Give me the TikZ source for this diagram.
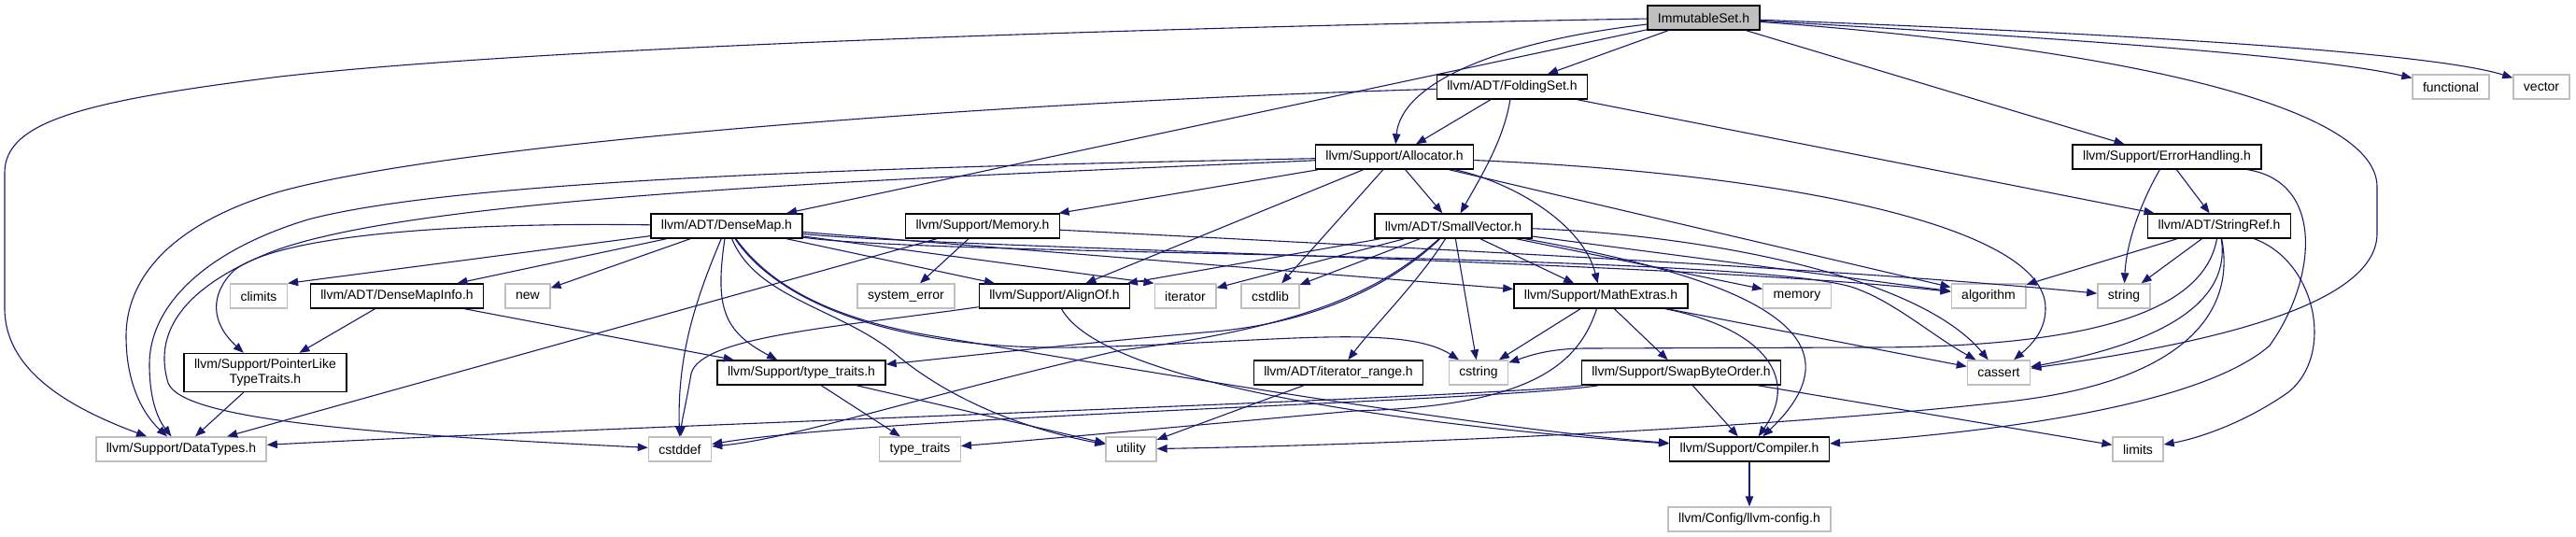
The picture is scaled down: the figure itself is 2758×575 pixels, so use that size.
\documentclass[tikz,border=0pt]{standalone}
\usepackage{fontspec}
\setmainfont{Liberation Sans}
\usetikzlibrary{arrows.meta}
\definecolor{edgeblue}{HTML}{191970}
\definecolor{stdgray}{HTML}{BFBFBF}
\begin{document}
\begin{tikzpicture}[x=1pt, y=-1pt,
    every node/.style={font=\fontsize{14}{16}\selectfont, inner xsep=11pt, inner ysep=0pt, minimum height=26pt, line width=1.4pt, fill=white},
    hdr/.style={draw=black},
    stdhdr/.style={draw=stdgray},
    roothdr/.style={draw=black, fill=stdgray},
    inc/.style={draw=edgeblue, line width=1.1pt, -{Triangle[length=11pt,width=8.5pt]}}]
    \useasboundingbox (0,0) rectangle (2758,575);

    % headers
    \node[roothdr] (iset) at (1824,19) {ImmutableSet.h};
    \node[hdr] (fset) at (1619,93) {llvm/ADT/FoldingSet.h};
    \node[stdhdr] (func) at (2624,93) {functional};
    \node[stdhdr] (vec) at (2721,93) {vector};
    \node[hdr] (alloc) at (1493,168) {llvm/Support/Allocator.h};
    \node[hdr] (errh) at (2320,168) {llvm/Support/ErrorHandling.h};
    \node[hdr] (dmap) at (778,242) {llvm/ADT/DenseMap.h};
    \node[hdr] (mem) at (1052,242) {llvm/Support/Memory.h};
    \node[hdr] (svec) at (1556,242) {llvm/ADT/SmallVector.h};
    \node[hdr] (sref) at (2376,242) {llvm/ADT/StringRef.h};
    \node[stdhdr] (climits) at (277,317) {climits};
    \node[hdr] (dminfo) at (425,317) {llvm/ADT/DenseMapInfo.h};
    \node[stdhdr] (new) at (565,317) {new};
    \node[stdhdr] (syserr) at (970,317) {system\_error};
    \node[hdr] (align) at (1129,317) {llvm/Support/AlignOf.h};
    \node[stdhdr] (iter) at (1269,317) {iterator};
    \node[stdhdr] (cstdlib) at (1360,317) {cstdlib};
    \node[hdr] (mathx) at (1714,317) {llvm/Support/MathExtras.h};
    \node[stdhdr] (memory) at (1924,317) {memory};
    \node[stdhdr] (algo) at (2129,317) {algorithm};
    \node[stdhdr] (string) at (2274,317) {string};
    \node[hdr, align=center, minimum height=41pt] (ptrlike) at (284,399) {llvm/Support/PointerLike\\TypeTraits.h};
    \node[hdr] (ttraitsh) at (858,399) {llvm/Support/type\_traits.h};
    \node[hdr] (irange) at (1433,399) {llvm/ADT/iterator\_range.h};
    \node[stdhdr] (cstring) at (1583,399) {cstring};
    \node[hdr] (swapbo) at (1800,399) {llvm/Support/SwapByteOrder.h};
    \node[stdhdr] (cassert) at (2140,399) {cassert};
    \node[stdhdr] (dtypes) at (194,481) {llvm/Support/DataTypes.h};
    \node[stdhdr] (cstddef) at (728,481) {cstddef};
    \node[stdhdr] (ttraits) at (985,481) {type\_traits};
    \node[stdhdr] (utility) at (1211,481) {utility};
    \node[hdr] (comp) at (1873,481) {llvm/Support/Compiler.h};
    \node[stdhdr] (limits) at (2289,481) {limits};
    \node[stdhdr] (lconf) at (1873,556) {llvm/Config/llvm-config.h};

    % ImmutableSet.h
    \draw[inc] (iset) .. controls (1300,28) and (600,48) .. (300,82) .. controls (90,108) and (5,130) .. (5,185) -- (5,330) .. controls (5,395) and (70,435) .. (dtypes);
    \draw[inc] (iset) -- (dmap);
    \draw[inc] (iset) -- (fset);
    \draw[inc] (iset) .. controls (1600,45) and (1500,90) .. (alloc);
    \draw[inc] (iset) -- (errh);
    \draw[inc] (iset) .. controls (2250,50) and (2545,110) .. (2545,200) -- (2545,250) .. controls (2545,330) and (2350,370) .. (cassert);
    \draw[inc] (iset) .. controls (2200,40) and (2480,60) .. (func);
    \draw[inc] (iset) .. controls (2250,35) and (2600,55) .. (vec);

    % FoldingSet.h
    \draw[inc] (fset) .. controls (1100,108) and (500,150) .. (300,205) .. controls (180,240) and (135,300) .. (135,360) .. controls (135,420) and (160,450) .. (dtypes);
    \draw[inc] (fset) -- (alloc);
    \draw[inc] (fset) .. controls (1610,150) and (1585,190) .. (svec);
    \draw[inc] (fset) -- (sref);

    % Allocator.h
    \draw[inc] (alloc) .. controls (1000,178) and (500,190) .. (330,235) .. controls (215,270) and (160,330) .. (160,390) .. controls (160,430) and (170,450) .. (dtypes);
    \draw[inc] (alloc) .. controls (1000,190) and (450,208) .. (290,270) .. controls (190,310) and (165,360) .. (180,410) .. controls (195,450) and (400,465) .. (cstddef);
    \draw[inc] (alloc) -- (mem);
    \draw[inc] (alloc) -- (align);
    \draw[inc] (alloc) -- (cstdlib);
    \draw[inc] (alloc) -- (svec);
    \draw[inc] (alloc) .. controls (1620,195) and (1695,240) .. (mathx);
    \draw[inc] (alloc) -- (algo);
    \draw[inc] (alloc) .. controls (1900,185) and (2190,240) .. (2190,330) .. controls (2190,350) and (2180,365) .. (cassert);

    % DenseMap.h
    \draw[inc] (dmap) -- (climits.north east);
    \draw[inc] (dmap) -- (dminfo);
    \draw[inc] (dmap) -- (new);
    \draw[inc] (dmap) .. controls (500,238) and (300,250) .. (250,290) .. controls (225,315) and (225,345) .. (ptrlike);
    \draw[inc] (dmap) .. controls (745,320) and (725,380) .. (cstddef);
    \draw[inc] (dmap) .. controls (765,330) and (775,355) .. (ttraitsh);
    \draw[inc] (dmap) .. controls (810,320) and (900,330) .. (960,380) .. controls (1020,430) and (1100,460) .. (utility);
    \draw[inc] (dmap) .. controls (830,320) and (950,375) .. (1150,372) .. controls (1350,368) and (1500,345) .. (cstring);
    \draw[inc] (dmap) .. controls (820,300) and (880,340) .. (1000,360) .. controls (1300,410) and (1600,460) .. (comp);
    \draw[inc] (dmap) -- (align);
    \draw[inc] (dmap) -- (iter.north west);
    \draw[inc] (dmap) -- (mathx);
    \draw[inc] (dmap) .. controls (1000,265) and (1800,280) .. (algo);
    \draw[inc] (dmap) .. controls (1000,275) and (1900,270) .. (1990,310) .. controls (2030,325) and (2070,360) .. (cassert);

    % Memory.h
    \draw[inc] (mem) -- (dtypes);
    \draw[inc] (mem) -- (syserr);
    \draw[inc] (mem) .. controls (1600,270) and (2000,290) .. (string);

    % SmallVector.h
    \draw[inc] (svec) -- (align);
    \draw[inc] (svec) -- (iter);
    \draw[inc] (svec) -- (cstdlib);
    \draw[inc] (svec) .. controls (1480,310) and (1400,350) .. (1200,375) .. controls (1000,420) and (850,470) .. (cstddef);
    \draw[inc] (svec) .. controls (1490,305) and (1410,345) .. (1300,355) .. controls (1150,368) and (1000,385) .. (ttraitsh);
    \draw[inc] (svec) .. controls (1520,300) and (1470,350) .. (irange);
    \draw[inc] (svec) -- (cstring);
    \draw[inc] (svec) -- (mathx);
    \draw[inc] (svec) .. controls (1880,300) and (2000,360) .. (comp);
    \draw[inc] (svec) -- (memory);
    \draw[inc] (svec) -- (algo);
    \draw[inc] (svec) .. controls (1800,250) and (2050,290) .. (cassert);

    % ErrorHandling.h and StringRef.h
    \draw[inc] (errh) .. controls (2285,230) and (2276,270) .. (string);
    \draw[inc] (errh) -- (sref);
    \draw[inc] (errh) .. controls (2490,195) and (2480,300) .. (2430,370) .. controls (2350,440) and (2100,465) .. (comp);
    \draw[inc] (sref) -- (algo);
    \draw[inc] (sref) -- (string);
    \draw[inc] (sref) .. controls (2360,330) and (2250,372) .. (2000,372) -- (1700,373) .. controls (1660,373) and (1640,380) .. (cstring);
    \draw[inc] (sref) .. controls (2390,330) and (2300,370) .. (cassert);
    \draw[inc] (sref) .. controls (2395,340) and (2330,410) .. (2150,430) .. controls (1900,458) and (1500,476) .. (utility);
    \draw[inc] (sref) .. controls (2480,280) and (2500,380) .. (2450,420) .. controls (2400,455) and (2350,470) .. (limits);

    % second row
    \draw[inc] (dminfo) -- (ptrlike);
    \draw[inc] (dminfo) -- (ttraitsh);
    \draw[inc] (align) .. controls (1180,410) and (1500,455) .. (comp);
    \draw[inc] (align) .. controls (900,350) and (750,360) .. (740,400) .. controls (735,430) and (730,450) .. (cstddef);
    \draw[inc] (mathx) -- (cstring);
    \draw[inc] (mathx) -- (swapbo);
    \draw[inc] (mathx) .. controls (1880,350) and (1930,400) .. (comp);
    \draw[inc] (mathx) -- (cassert);
    \draw[inc] (mathx) .. controls (1690,390) and (1640,435) .. (1450,440) .. controls (1250,458) and (1100,472) .. (ttraits);

    % third row
    \draw[inc] (ptrlike) -- (dtypes);
    \draw[inc] (ttraitsh) -- (ttraits);
    \draw[inc] (ttraitsh) -- (utility);
    \draw[inc] (irange) -- (utility);
    \draw[inc] (swapbo) -- (comp);
    \draw[inc] (swapbo) -- (limits);
    \draw[inc] (swapbo) .. controls (1600,425) and (700,455) .. (dtypes);
    \draw[inc] (swapbo) .. controls (1600,430) and (950,445) .. (cstddef);
    \draw[inc] (comp) -- (lconf);
\end{tikzpicture}
\end{document}
